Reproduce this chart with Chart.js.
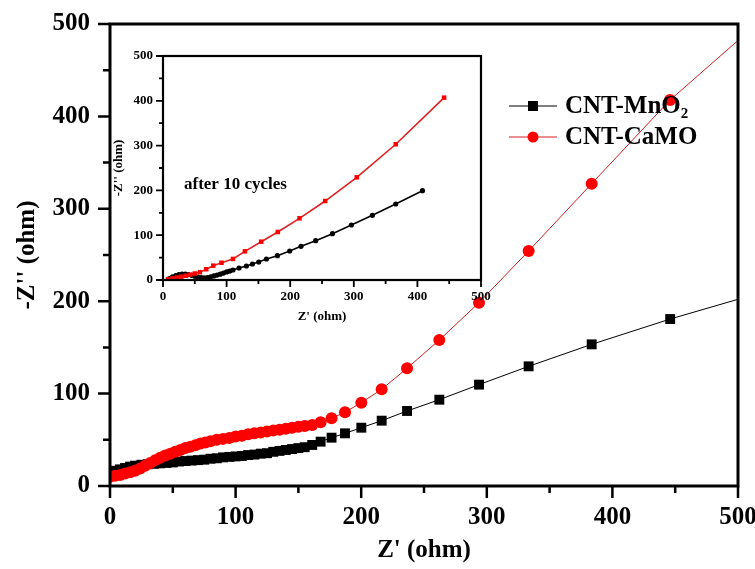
<!DOCTYPE html>
<html>
<head>
<meta charset="utf-8">
<script src="https://cdn.jsdelivr.net/npm/chart.js@4/dist/chart.umd.min.js"></script>
<style>
  html, body { margin: 0; padding: 0; background: #fff; }
  #wrap { position: relative; width: 755px; height: 569px; }
  #main { position: absolute; left: 0; top: 0; }
  #inset { position: absolute; left: 100px; top: 40px; }
</style>
</head>
<body>
<div id="wrap">
  <canvas id="main" width="755" height="569"></canvas>
  <canvas id="inset" width="395" height="290"></canvas>
</div>
<script>
// main plot: CNT-MnO2 (black squares)
const mnX = [0,4,8,12,16,20,25,30,35,40,45,50,55,60,65,70,75,80,85,90,95,100,105,110,115,120,125,130,135,140,145,150,155,161,167.7,176.4,187.1,200.1,216.3,236.5,262.2,293.8,333.3,383.5,446,515];
const mnY = [15,16.5,18,19.5,21,22,23,23.5,24,24.5,25,25.5,26.5,27,27.5,28,28.5,29.5,30,31,31.5,32,32.5,33.5,34,35,35.5,37,38,39,40,41,42,44.4,48,52.3,57,63.1,70.7,81.2,93.4,109.7,129.5,153.3,180.7,208];
// main plot: CNT-CaMO (red circles)
const caX = [0,4,8,12,16,20,24,28,32,36,40,44,48,52,56,60,64,68,72,76,80,85,90,95,100,105,110,115,120,125,130,135,140,145,150,155,161,167.7,176.4,187.1,200.1,216.3,236.5,262.2,293.8,333.3,383.5,445.9,530];
const caY = [10,11,12,13.5,15,16.5,19,22,25,28,30.5,33,35,37,39,41,42.5,44,46,47,48.5,50,51,52,53.5,54.5,56,57,58,59,60,61,62,63,64,65,66,69,73.3,79.8,90.2,104.6,127.4,158,198.4,254.3,327.2,417.7,518];

// inset: after 10 cycles
const mnXi = [10,15,20,25,30,35,40,45,50,55,60,65,70,75,80,85,90,95,100,105,110,119.5,131.1,140.6,150.5,162.6,179.9,199.2,217,240.1,266.4,296.2,329.2,365.9,407.9];
const mnYi = [3,7,10,12,13,13,12,10.5,8.5,6.5,5.5,5,5.5,7,9,11,13,15.5,18,20,22.3,26.8,31.2,35.7,40.2,46.9,54.2,64.7,75.2,87.7,103.4,122.8,144.4,169.6,199.3];
const caXi = [8,15,22,29,36,43,50,58,68,79,92,110,128.8,154.3,180.5,214.6,255,304.7,366,442];
const caYi = [1.5,3.5,5.5,7.5,9.5,12,14.5,17.4,24,32,38.5,47,64,85.5,107.1,137.7,176.3,229.2,303,407];

const tickVals = [0,100,200,300,400,500];
const seriesNames = ['CNT-MnO\u2082', 'CNT-CaMO'];

const SERIF = "'Liberation Serif', 'Times New Roman', serif";
const pts = (xs, ys) => xs.map((x, i) => ({x, y: ys[i]}));

// frame + major/minor ticks drawn from the scales
const frameTicks = {
  id: 'frameTicks',
  beforeDraw(chart) {
    const {ctx, chartArea: a} = chart;
    ctx.save();
    ctx.fillStyle = '#fff';
    ctx.fillRect(a.left, a.top, a.width, a.height);
    ctx.restore();
  },
  afterDraw(chart, args, o) {
    const {ctx, chartArea: a, scales: {x, y}} = chart;
    ctx.save();
    ctx.strokeStyle = '#000';
    ctx.lineWidth = o.tickWidth;
    ctx.beginPath();
    for (let v = x.min; v <= x.max; v += 50) {
      const px = x.getPixelForValue(v);
      ctx.moveTo(px, a.bottom);
      ctx.lineTo(px, a.bottom + (v % 100 === 0 ? o.major : o.minor));
    }
    for (let v = y.min; v <= y.max; v += 50) {
      const py = y.getPixelForValue(v);
      ctx.moveTo(a.left, py);
      ctx.lineTo(a.left - (v % 100 === 0 ? o.major : o.minor), py);
    }
    ctx.stroke();
    ctx.lineWidth = o.frame;
    ctx.strokeRect(a.left, a.top, a.width, a.height);
    ctx.restore();
  }
};

const legendBox = {
  id: 'legendBox',
  afterDatasetsDraw(chart, args, o) {
    if (!o.show) return;
    const {ctx} = chart;
    const sets = [chart.data.datasets[1], chart.data.datasets[0]];
    ctx.save();
    sets.forEach((ds, i) => {
      const yy = o.y + i * o.gap;
      ctx.strokeStyle = ds.borderColor;
      ctx.lineWidth = 1;
      ctx.beginPath();
      ctx.moveTo(o.x, yy);
      ctx.lineTo(o.x + 48, yy);
      ctx.stroke();
      ctx.fillStyle = ds.pointBackgroundColor;
      if (ds.pointStyle === 'rect') ctx.fillRect(o.x + 24 - 5, yy - 5, 10, 10);
      else { ctx.beginPath(); ctx.arc(o.x + 24, yy, 5.5, 0, Math.PI * 2); ctx.fill(); }
      ctx.fillStyle = '#000';
      ctx.font = 'bold 25px ' + SERIF;
      ctx.textBaseline = 'middle';
      ctx.fillText(ds.label, o.x + 56, yy + 1);
    });
    ctx.restore();
  }
};

const noteText = {
  id: 'noteText',
  afterDatasetsDraw(chart, args, o) {
    if (!o.text) return;
    const {ctx, scales: {x, y}} = chart;
    ctx.save();
    ctx.fillStyle = '#000';
    ctx.font = 'bold 17px ' + SERIF;
    ctx.textBaseline = 'middle';
    ctx.fillText(o.text, x.getPixelForValue(o.x), y.getPixelForValue(o.y));
    ctx.restore();
  }
};

function axis(title, size, tickLen, pad, titlePad, fixed, horizontal) {
  return {
    type: 'linear', min: 0, max: 500,
    afterBuildTicks: s => { s.ticks = tickVals.map(v => ({value: v})); },
    afterFit: s => {
      if (horizontal) { s.height = fixed; s.paddingLeft = 0; s.paddingRight = 0; }
      else { s.width = fixed; s.paddingTop = 0; s.paddingBottom = 0; }
    },
    ticks: { color: '#000', padding: pad, font: { family: SERIF, weight: 'bold', size: size } },
    grid: { display: true, drawOnChartArea: false, drawTicks: true, tickLength: tickLen, color: 'rgba(0,0,0,0)' },
    border: { display: false },
    title: { display: true, text: title, color: '#000', padding: titlePad, font: { family: SERIF, weight: 'bold', size: size } }
  };
}

new Chart(document.getElementById('main'), {
  type: 'scatter',
  data: {
    datasets: [
      { label: seriesNames[1], data: pts(caX, caY), showLine: true, order: 0,
        borderColor: '#d42020', borderWidth: 1, pointStyle: 'circle', pointRadius: 6,
        pointBackgroundColor: '#ff0000', pointBorderColor: '#ff0000', pointBorderWidth: 0 },
      { label: seriesNames[0], data: pts(mnX, mnY), showLine: true, order: 1,
        borderColor: '#000', borderWidth: 1, pointStyle: 'rect', pointRadius: 7,
        pointBackgroundColor: '#000', pointBorderColor: '#000', pointBorderWidth: 0 }
    ]
  },
  options: {
    responsive: false, animation: false,
    layout: { padding: { top: 24, right: 17, left: 0, bottom: 0 } },
    scales: {
      x: axis("Z' (ohm)", 25, 12, 5, { top: 0, bottom: 3 }, 83, true),
      y: axis("-Z'' (ohm)", 25, 12, 8, { top: 13, bottom: 0 }, 110, false)
    },
    plugins: {
      legend: { display: false }, tooltip: { enabled: false },
      frameTicks: { tickWidth: 2.5, major: 12, minor: 7, frame: 3 },
      legendBox: { show: true, x: 509, y: 106, gap: 31 },
      noteText: {}
    }
  },
  plugins: [frameTicks, legendBox, noteText]
});

new Chart(document.getElementById('inset'), {
  type: 'scatter',
  data: {
    datasets: [
      { label: seriesNames[1], data: pts(caXi, caYi), showLine: true, order: 0,
        borderColor: '#e02020', borderWidth: 1.6, pointStyle: 'rect', pointRadius: 3.2,
        pointBackgroundColor: '#ff0000', pointBorderWidth: 0 },
      { label: seriesNames[0], data: pts(mnXi, mnYi), showLine: true, order: 1,
        borderColor: '#000', borderWidth: 1.6, pointStyle: 'circle', pointRadius: 2.6,
        pointBackgroundColor: '#000', pointBorderWidth: 0 }
    ]
  },
  options: {
    responsive: false, animation: false,
    layout: { padding: { top: 16, right: 14, left: 0, bottom: 0 } },
    scales: {
      x: axis("Z' (ohm)", 13, 7, 2, { top: 0, bottom: 5.5 }, 50, true),
      y: axis("-Z'' (ohm)", 13, 7, 3, { top: 11, bottom: 0 }, 63, false)
    },
    plugins: {
      legend: { display: false }, tooltip: { enabled: false },
      frameTicks: { tickWidth: 1.8, major: 7, minor: 4, frame: 2.2 },
      legendBox: { show: false },
      noteText: { text: 'after 10 cycles', x: 33, y: 212 }
    }
  },
  plugins: [frameTicks, legendBox, noteText]
});
</script>
</body>
</html>
